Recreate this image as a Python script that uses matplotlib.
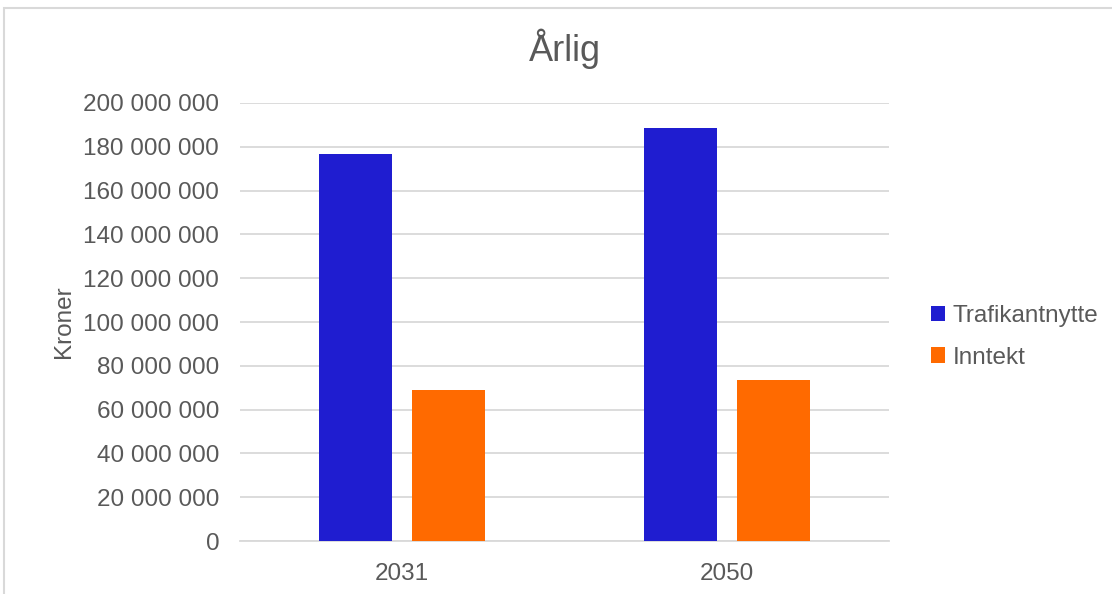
import numpy as np
import matplotlib.pyplot as plt
from matplotlib.patches import Rectangle
from matplotlib.ticker import FuncFormatter

years = ["2031", "2050"]
trafikantnytte = [176800000, 188600000]
inntekt = [68900000, 73500000]

blue = "#1F1DD0"
orange = "#FF6A00"
grey_text = "#595959"

plt.rcParams["font.family"] = ["Liberation Sans", "DejaVu Sans"]

fig = plt.figure(figsize=(11.12, 5.94), dpi=100)
ax = fig.add_axes([0.2158, 0.0892, 0.7837 - 0.2158 + 0.016, 0.7374])

x = np.arange(len(years))
w = 0.225
gap = 0.062
ax.bar(x - (w + gap) / 2, trafikantnytte, width=w, color=blue, label="Trafikantnytte", zorder=3)
ax.bar(x + (w + gap) / 2, inntekt, width=w, color=orange, label="Inntekt", zorder=3)

ax.set_xlim(-0.5, 1.5)
ax.set_ylim(0, 200000000)
ax.set_yticks(np.arange(0, 200000001, 20000000))
ax.yaxis.set_major_formatter(FuncFormatter(lambda v, p: f"{int(v):,}".replace(",", " ")))
ax.set_xticks(x)
ax.set_xticklabels(years)
ax.grid(axis="y", color="#D9D9D9", lw=1.3, zorder=0)
for s in ["top", "right", "left"]:
    ax.spines[s].set_visible(False)
ax.spines["bottom"].set_color("#D9D9D9")
ax.spines["bottom"].set_linewidth(1.3)
ax.tick_params(axis="y", length=0, labelsize=17.5, colors=grey_text, pad=15)
ax.tick_params(axis="x", length=0, labelsize=17.5, colors=grey_text, pad=16)
ax.set_ylabel("Kroner", fontsize=17.5, color=grey_text, labelpad=6)
ax.set_title("Årlig", fontsize=26, color=grey_text, pad=30)

leg = ax.legend(loc="center left", bbox_to_anchor=(1.03, 0.466), frameon=False,
                fontsize=17.5, handlelength=0.6, handleheight=0.6,
                handletextpad=0.3, labelspacing=0.8)
for t in leg.get_texts():
    t.set_color(grey_text)

fig.patches.append(Rectangle((4 / 1112, -0.01), 1.1, 1 - 8 / 594 + 0.01,
                             transform=fig.transFigure, fill=False,
                             edgecolor="#D9D9D9", lw=1.5))

fig.savefig("out.png", dpi=100)
